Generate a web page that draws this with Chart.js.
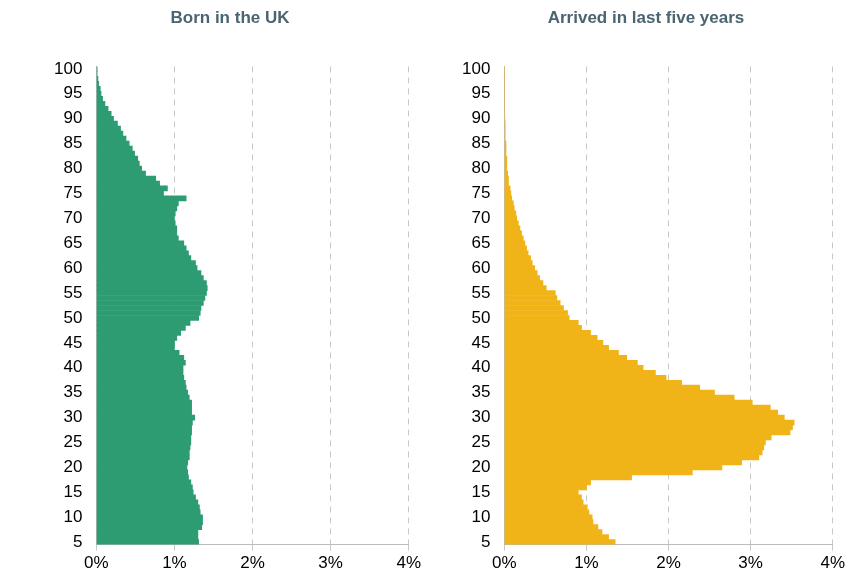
<!DOCTYPE html>
<html>
<head>
<meta charset="utf-8">
<script src="https://cdn.jsdelivr.net/npm/chart.js@4"></script>
<style>
  body { margin: 0; background: #fff; }
  .panel { position: absolute; top: 0; width: 424px; height: 585px; }
</style>
</head>
<body>
<div class="panel" style="left:0"><canvas id="ukChart"></canvas></div>
<div class="panel" style="left:424px"><canvas id="newChart"></canvas></div>
<script>
// ages 5..100
const ages = [];
for (let a = 5; a <= 100; a++) ages.push(a);

const bornUK = [
  1.31, 1.30, 1.30, 1.35, 1.36, 1.36, 1.33, 1.32, 1.30, 1.27,
  1.24, 1.23, 1.21, 1.18, 1.17, 1.16, 1.17, 1.19, 1.19, 1.20,
  1.21, 1.21, 1.22, 1.22, 1.23, 1.26, 1.22, 1.22, 1.22, 1.19,
  1.17, 1.15, 1.14, 1.12, 1.11, 1.11, 1.14, 1.12, 1.06, 1.00,
  1.00, 1.03, 1.08, 1.14, 1.20, 1.31, 1.33, 1.34, 1.37, 1.39,
  1.41, 1.42, 1.41, 1.37, 1.34, 1.29, 1.27, 1.21, 1.18, 1.15,
  1.12, 1.05, 1.03, 1.03, 1.01, 1.00, 1.01, 1.03, 1.05, 1.15,
  0.86, 0.91, 0.81, 0.76, 0.63, 0.58, 0.55, 0.53, 0.49, 0.46,
  0.42, 0.38, 0.34, 0.31, 0.27, 0.22, 0.19, 0.15, 0.11, 0.08,
  0.06, 0.05, 0.03, 0.02, 0.01, 0.01
];

const arrivedRecent = [
  1.35, 1.27, 1.19, 1.14, 1.08, 1.07, 1.03, 1.01, 0.96, 0.94,
  0.90, 1.00, 1.05, 1.55, 2.29, 2.65, 2.89, 3.10, 3.14, 3.16,
  3.18, 3.25, 3.48, 3.51, 3.53, 3.41, 3.33, 3.24, 3.02, 2.80,
  2.56, 2.38, 2.16, 1.97, 1.84, 1.69, 1.62, 1.49, 1.39, 1.27,
  1.20, 1.13, 1.05, 0.94, 0.90, 0.79, 0.77, 0.72, 0.68, 0.64,
  0.62, 0.51, 0.47, 0.43, 0.40, 0.37, 0.34, 0.32, 0.29, 0.27,
  0.25, 0.23, 0.21, 0.19, 0.17, 0.15, 0.14, 0.12, 0.11, 0.09,
  0.08, 0.07, 0.05, 0.05, 0.04, 0.03, 0.03, 0.03, 0.02, 0.02,
  0.02, 0.01, 0.01, 0.01, 0.01, 0.005, 0, 0, 0, 0,
  0, 0, 0, 0, 0, 0
];

const xTicks = [0, 1, 2, 3, 4];

function makeChart(id, title, values, color, padLeft) {
  new Chart(document.getElementById(id), {
    type: 'bar',
    data: {
      labels: ages,
      datasets: [{ data: values, backgroundColor: color, barPercentage: 1, categoryPercentage: 1 }],
    },
    options: {
      indexAxis: 'y',
      responsive: true,
      maintainAspectRatio: false,
      animation: false,
      layout: { padding: { left: padLeft, right: 12, top: 0, bottom: 8 } },
      plugins: {
        legend: { display: false },
        tooltip: { enabled: false },
        title: {
          display: true,
          text: title,
          color: '#4a6572',
          font: { family: 'Liberation Sans', size: 17, weight: 'bold' },
          padding: { top: 8, bottom: 38 },
        },
      },
      scales: {
        x: {
          min: xTicks[0],
          max: xTicks[xTicks.length - 1],
          afterBuildTicks: (s) => { s.ticks = xTicks.map((v) => ({ value: v })); },
          ticks: { color: '#000', font: { family: 'Liberation Sans', size: 17 }, callback: (v) => v + '%' },
          grid: { color: '#c8c8c8', drawTicks: true, tickLength: 6 },
          border: { color: '#bbb', dash: [6, 5] },
        },
        y: {
          reverse: true,
          ticks: {
            autoSkip: false,
            color: '#000',
            font: { family: 'Liberation Sans', size: 17 },
            padding: 6,
            callback: (v, i) => (ages[i] % 5 === 0 ? ages[i] : ''),
          },
          grid: { display: false },
          border: { color: '#bbb' },
        },
      },
    },
  });
}

Chart.defaults.font.family = 'Liberation Sans';
makeChart('ukChart', 'Born in the UK', bornUK, '#2e9c72', 48);
makeChart('newChart', 'Arrived in last five years', arrivedRecent, '#f0b418', 32);
</script>
</body>
</html>
